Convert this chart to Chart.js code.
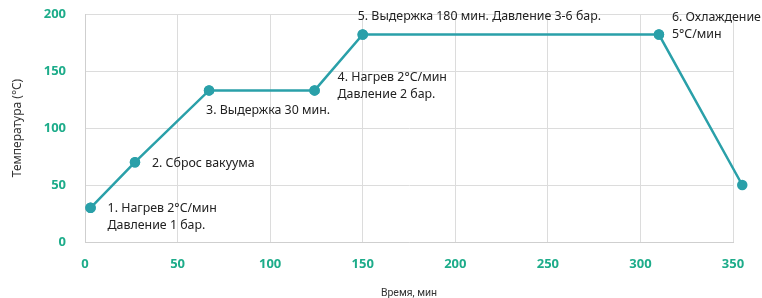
<!DOCTYPE html>
<html><head><meta charset="utf-8">
<script src="https://cdn.jsdelivr.net/npm/chart.js@4.4.1/dist/chart.umd.min.js"></script>
<style>html,body{margin:0;padding:0;background:#fff}#wrap{width:762px;height:298px}</style>
</head><body><div id="wrap"><canvas id="c" width="762" height="298"></canvas></div>
<script>
const timeMin = [3, 27, 67, 124, 150, 310, 355];
const tempC = [30, 70, 133, 133, 182, 182, 50];
const xTicks = [0, 50, 100, 150, 200, 250, 300, 350];
const yTicks = [0, 50, 100, 150, 200];
const annotations = [
  ["1. Нагрев 2°C/мин", "Давление 1 бар."],
  ["2. Сброс вакуума"],
  ["3. Выдержка 30 мин."],
  ["4. Нагрев 2°C/мин", "Давление 2 бар."],
  ["5. Выдержка 180 мин. Давление 3-6 бар."],
  ["6. Охлаждение", "5°C/мин"],
  []
];
const annOffsets = [[17, 1], [17, 1], [-3, 20], [23, -13], [-5, -18], [13, -17], null];

const labelPlugin = {
  id: 'labels',
  afterDatasetsDraw(chart) {
    const ctx = chart.ctx, xs = chart.scales.x, ys = chart.scales.y;
    // draw points that lie outside the chart area too
    const full = {left: 0, top: 0, right: chart.width, bottom: chart.height};
    chart.getDatasetMeta(0).data.forEach(p => p.draw(ctx, full));
    ctx.save();
    ctx.font = '12.4px "Noto Sans"';
    ctx.fillStyle = '#222';
    ctx.textAlign = 'left';
    ctx.textBaseline = 'middle';
    annotations.forEach((lines, i) => {
      const off = annOffsets[i];
      if (!off || !lines.length) return;
      const px = xs.getPixelForValue(timeMin[i]) + off[0];
      const py = ys.getPixelForValue(tempC[i]) + off[1];
      lines.forEach((t, k) => ctx.fillText(t, px, py + k * 17));
    });
    ctx.restore();
  }
};

const green = '#1dac8a';
new Chart(document.getElementById('c'), {
  type: 'line',
  data: { datasets: [{
    data: timeMin.map((x, i) => ({x, y: tempC[i]})),
    borderColor: '#2aa0a9', backgroundColor: '#2aa0a9',
    borderWidth: 2.5, pointRadius: 4, pointHoverRadius: 4,
    clip: false, tension: 0
  }]},
  options: {
    responsive: false, animation: false,
    layout: { padding: { top: 14, right: 29, left: 0, bottom: 0 } },
    plugins: { legend: { display: false }, tooltip: { enabled: false } },
    scales: {
      x: {
        type: 'linear', min: 0, max: 350,
        afterBuildTicks(s) { s.ticks = xTicks.map(v => ({value: v})); },
        afterFit(s) { s.height = 56; s.paddingLeft = 0; s.paddingRight = 0; },
        grid: { color: '#dcdcdc', drawTicks: false },
        border: { color: '#cfcfcf' },
        ticks: { padding: 14, color: green, font: { family: 'Noto Sans', size: 13, weight: 'bold' } },
        title: { display: true, text: 'Время, мин', color: '#333', font: { family: 'Roboto', size: 10.5 }, padding: { top: 0, bottom: -2 } }
      },
      y: {
        min: 0, max: 200,
        afterBuildTicks(s) { s.ticks = yTicks.map(v => ({value: v})); },
        afterFit(s) { s.width = 85; s.paddingTop = 0; s.paddingBottom = 0; },
        grid: { color: '#dcdcdc', drawTicks: false },
        border: { color: '#cfcfcf' },
        ticks: { padding: 19, color: green, font: { family: 'Noto Sans', size: 13, weight: 'bold' } },
        title: { display: true, text: 'Температура (°C)', color: '#333', font: { family: 'Noto Sans', size: 12 }, padding: { top: 10, bottom: 0 } }
      }
    }
  },
  plugins: [labelPlugin]
});
</script></body></html>
